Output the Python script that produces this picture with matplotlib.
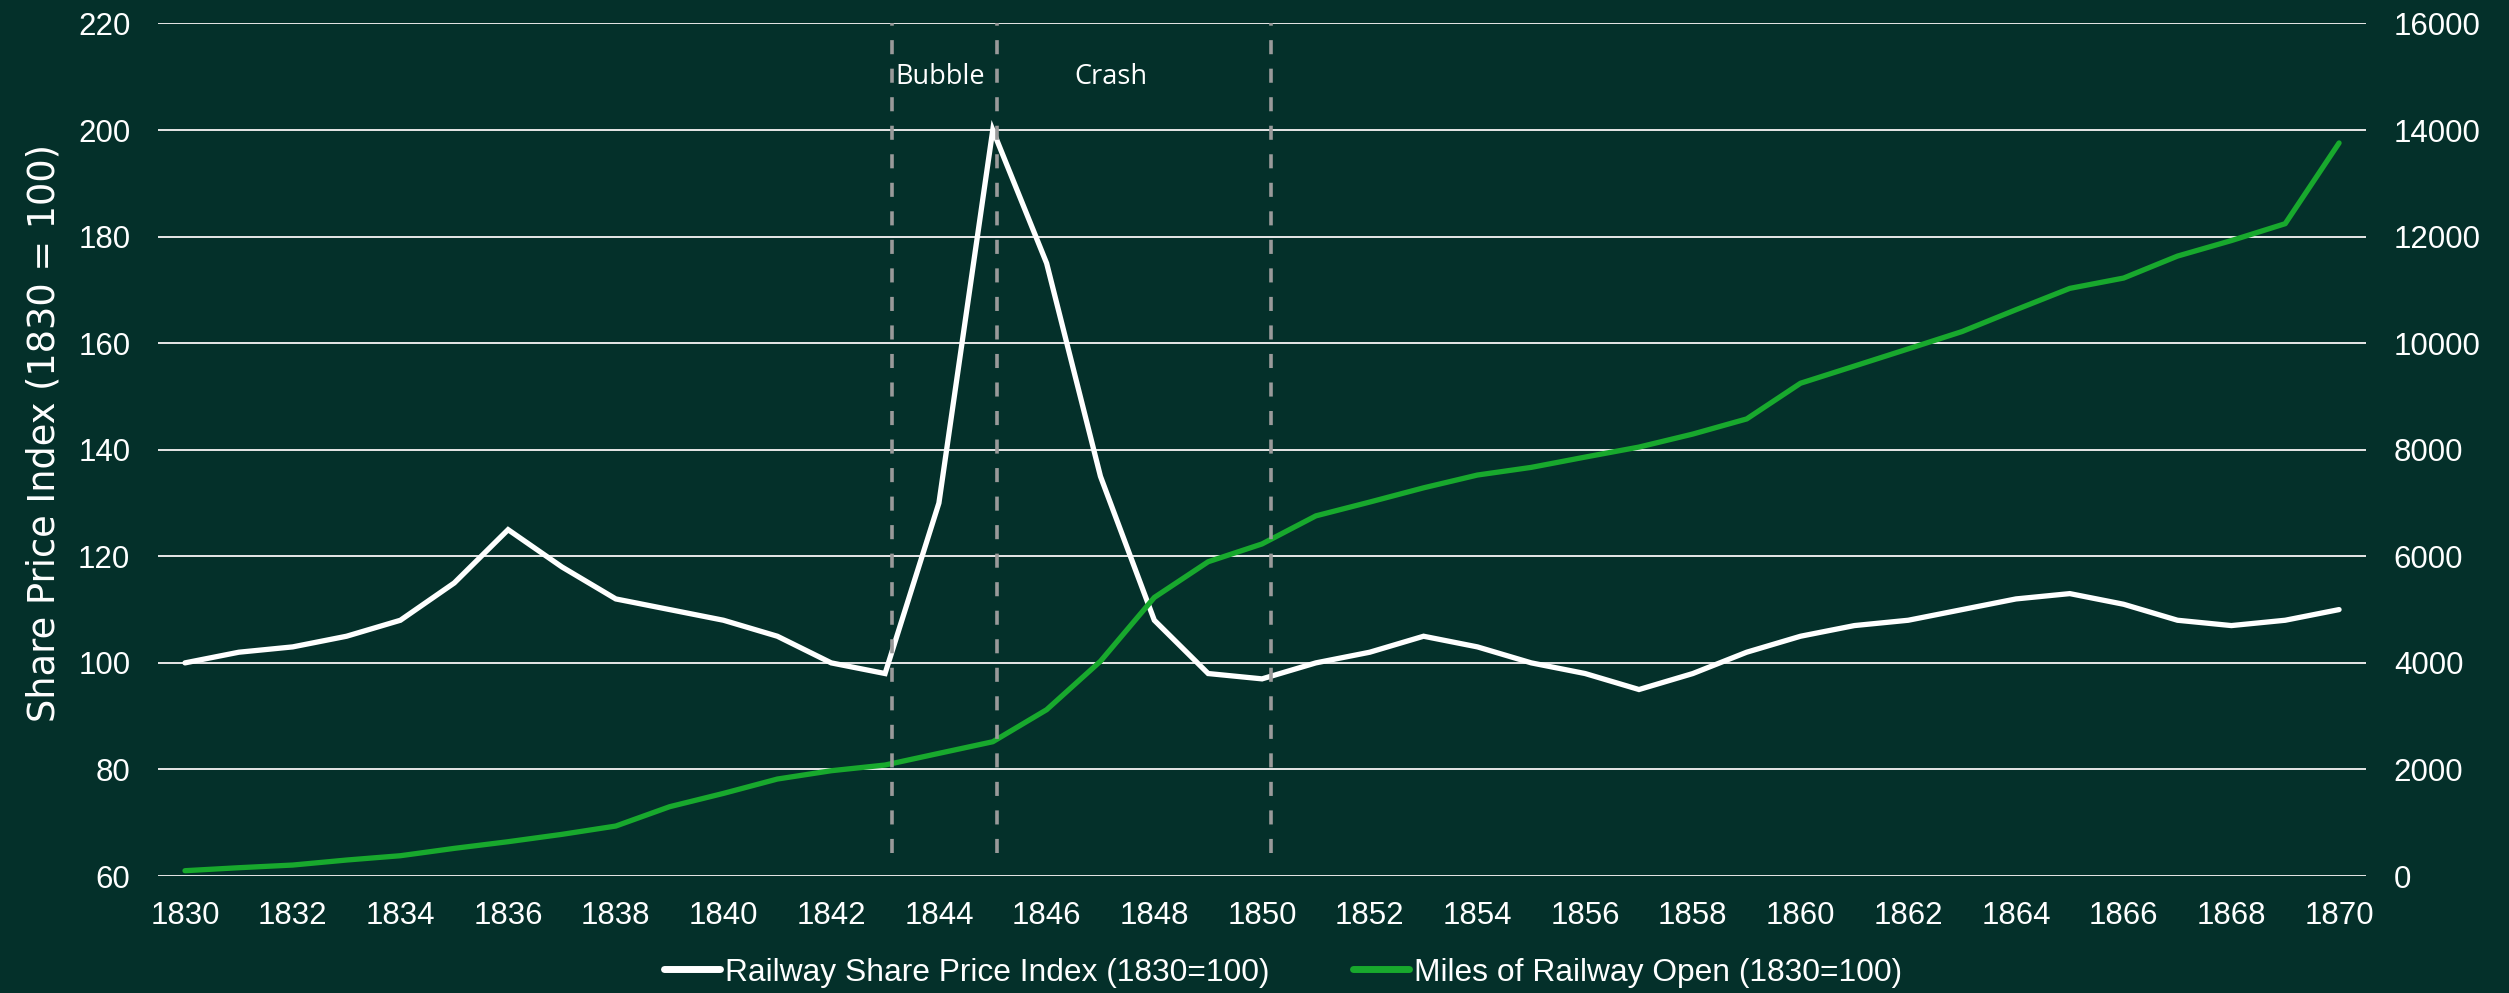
import matplotlib
matplotlib.use("Agg")
import matplotlib.pyplot as plt
from matplotlib.lines import Line2D

years = list(range(1830, 1871))
share_price_index = [100, 102, 103, 105, 108, 115, 125, 118, 112, 110,
                     108, 105, 100, 98, 130, 200, 175, 135, 108, 98,
                     97, 100, 102, 105, 103, 100, 98, 95, 98, 102,
                     105, 107, 108, 110, 112, 113, 111, 108, 107, 108, 110]
miles_open = [100, 156, 206, 300, 381, 519, 644, 782, 938, 1301,
              1551, 1820, 1976, 2083, 2302, 2520, 3121, 4031, 5228, 5898,
              6232, 6759, 7018, 7285, 7525, 7669, 7862, 8050, 8294, 8578,
              9248, 9570, 9893, 10218, 10627, 11028, 11222, 11634, 11925, 12242, 13757]
left_ticks = [60, 80, 100, 120, 140, 160, 180, 200, 220]
right_ticks = [0, 2000, 4000, 6000, 8000, 10000, 12000, 14000, 16000]
x_ticks = list(range(1830, 1871, 2))
phase_lines = [1843.12, 1845.08, 1850.16]
phase_labels = ["Bubble", "Crash"]
phase_label_x = [1844.03, 1847.2]
series_names = ["Railway Share Price Index (1830=100)", "Miles of Railway Open (1830=100)"]

BG = "#04302A"
GREEN = "#18A92D"
TICK_FONT = "Liberation Sans"

fig = plt.figure(figsize=(25.09, 9.93), dpi=100, facecolor=BG)
ax = fig.add_axes([0.063, 0.1178, 0.88, 0.8586])
ax.set_facecolor(BG)
ax2 = ax.twinx()

ax.plot(years, share_price_index, color="white", lw=3.8, solid_capstyle="round",
        solid_joinstyle="miter", zorder=3)
ax2.plot(years, miles_open, color=GREEN, lw=3.8, solid_capstyle="round", zorder=3)

ax.set_xlim(1829.5, 1870.5)
ax.set_ylim(60, 220)
ax2.set_ylim(0, 16000)
ax.set_xticks(x_ticks)
ax.set_yticks(left_ticks)
ax2.set_yticks(right_ticks)

ax.grid(axis="y", color="#e8e8e8", lw=1.4, zorder=0)
ax.set_axisbelow(True)
for a in (ax, ax2):
    for s in a.spines.values():
        s.set_visible(False)

ax.tick_params(axis="both", length=0, colors="white", labelsize=22.5)
ax.tick_params(axis="y", pad=20)
ax.tick_params(axis="x", pad=18)
ax2.tick_params(axis="y", length=0, colors="white", labelsize=22.5, pad=20)
for lab in ax.get_xticklabels() + ax.get_yticklabels() + ax2.get_yticklabels():
    lab.set_fontfamily(TICK_FONT)

ax.set_ylabel("Share Price Index (1830 = 100)", color="white", fontsize=26.5,
              fontfamily="DejaVu Sans", fontweight="normal", labelpad=11)
ax.yaxis.label.set_y(0.52)

# phase separators and labels
for xv in phase_lines:
    ax2.axvline(xv, ymin=0.0275, ymax=1.0, color="#9a9a9a", lw=2.6,
                ls=(0, (3.9, 4.0)), zorder=4)
for lbl, xv in zip(phase_labels, phase_label_x):
    ax.text(xv, 210, lbl, color="white", fontsize=19.5, fontfamily="Open Sans",
            ha="center", va="center", zorder=5)

handles = [Line2D([0], [0], color="white", lw=5, solid_capstyle="round"),
           Line2D([0], [0], color=GREEN, lw=5, solid_capstyle="round")]
leg = fig.legend(handles, series_names, loc="center", bbox_to_anchor=(0.5114, 0.0206),
                 ncol=2, frameon=False, handlelength=1.76,
                 handletextpad=0.16, columnspacing=2.62,
                 prop={"family": TICK_FONT, "size": 22.9})
for t in leg.get_texts():
    t.set_color("white")

fig.savefig("out.png", dpi=100, facecolor=BG)
